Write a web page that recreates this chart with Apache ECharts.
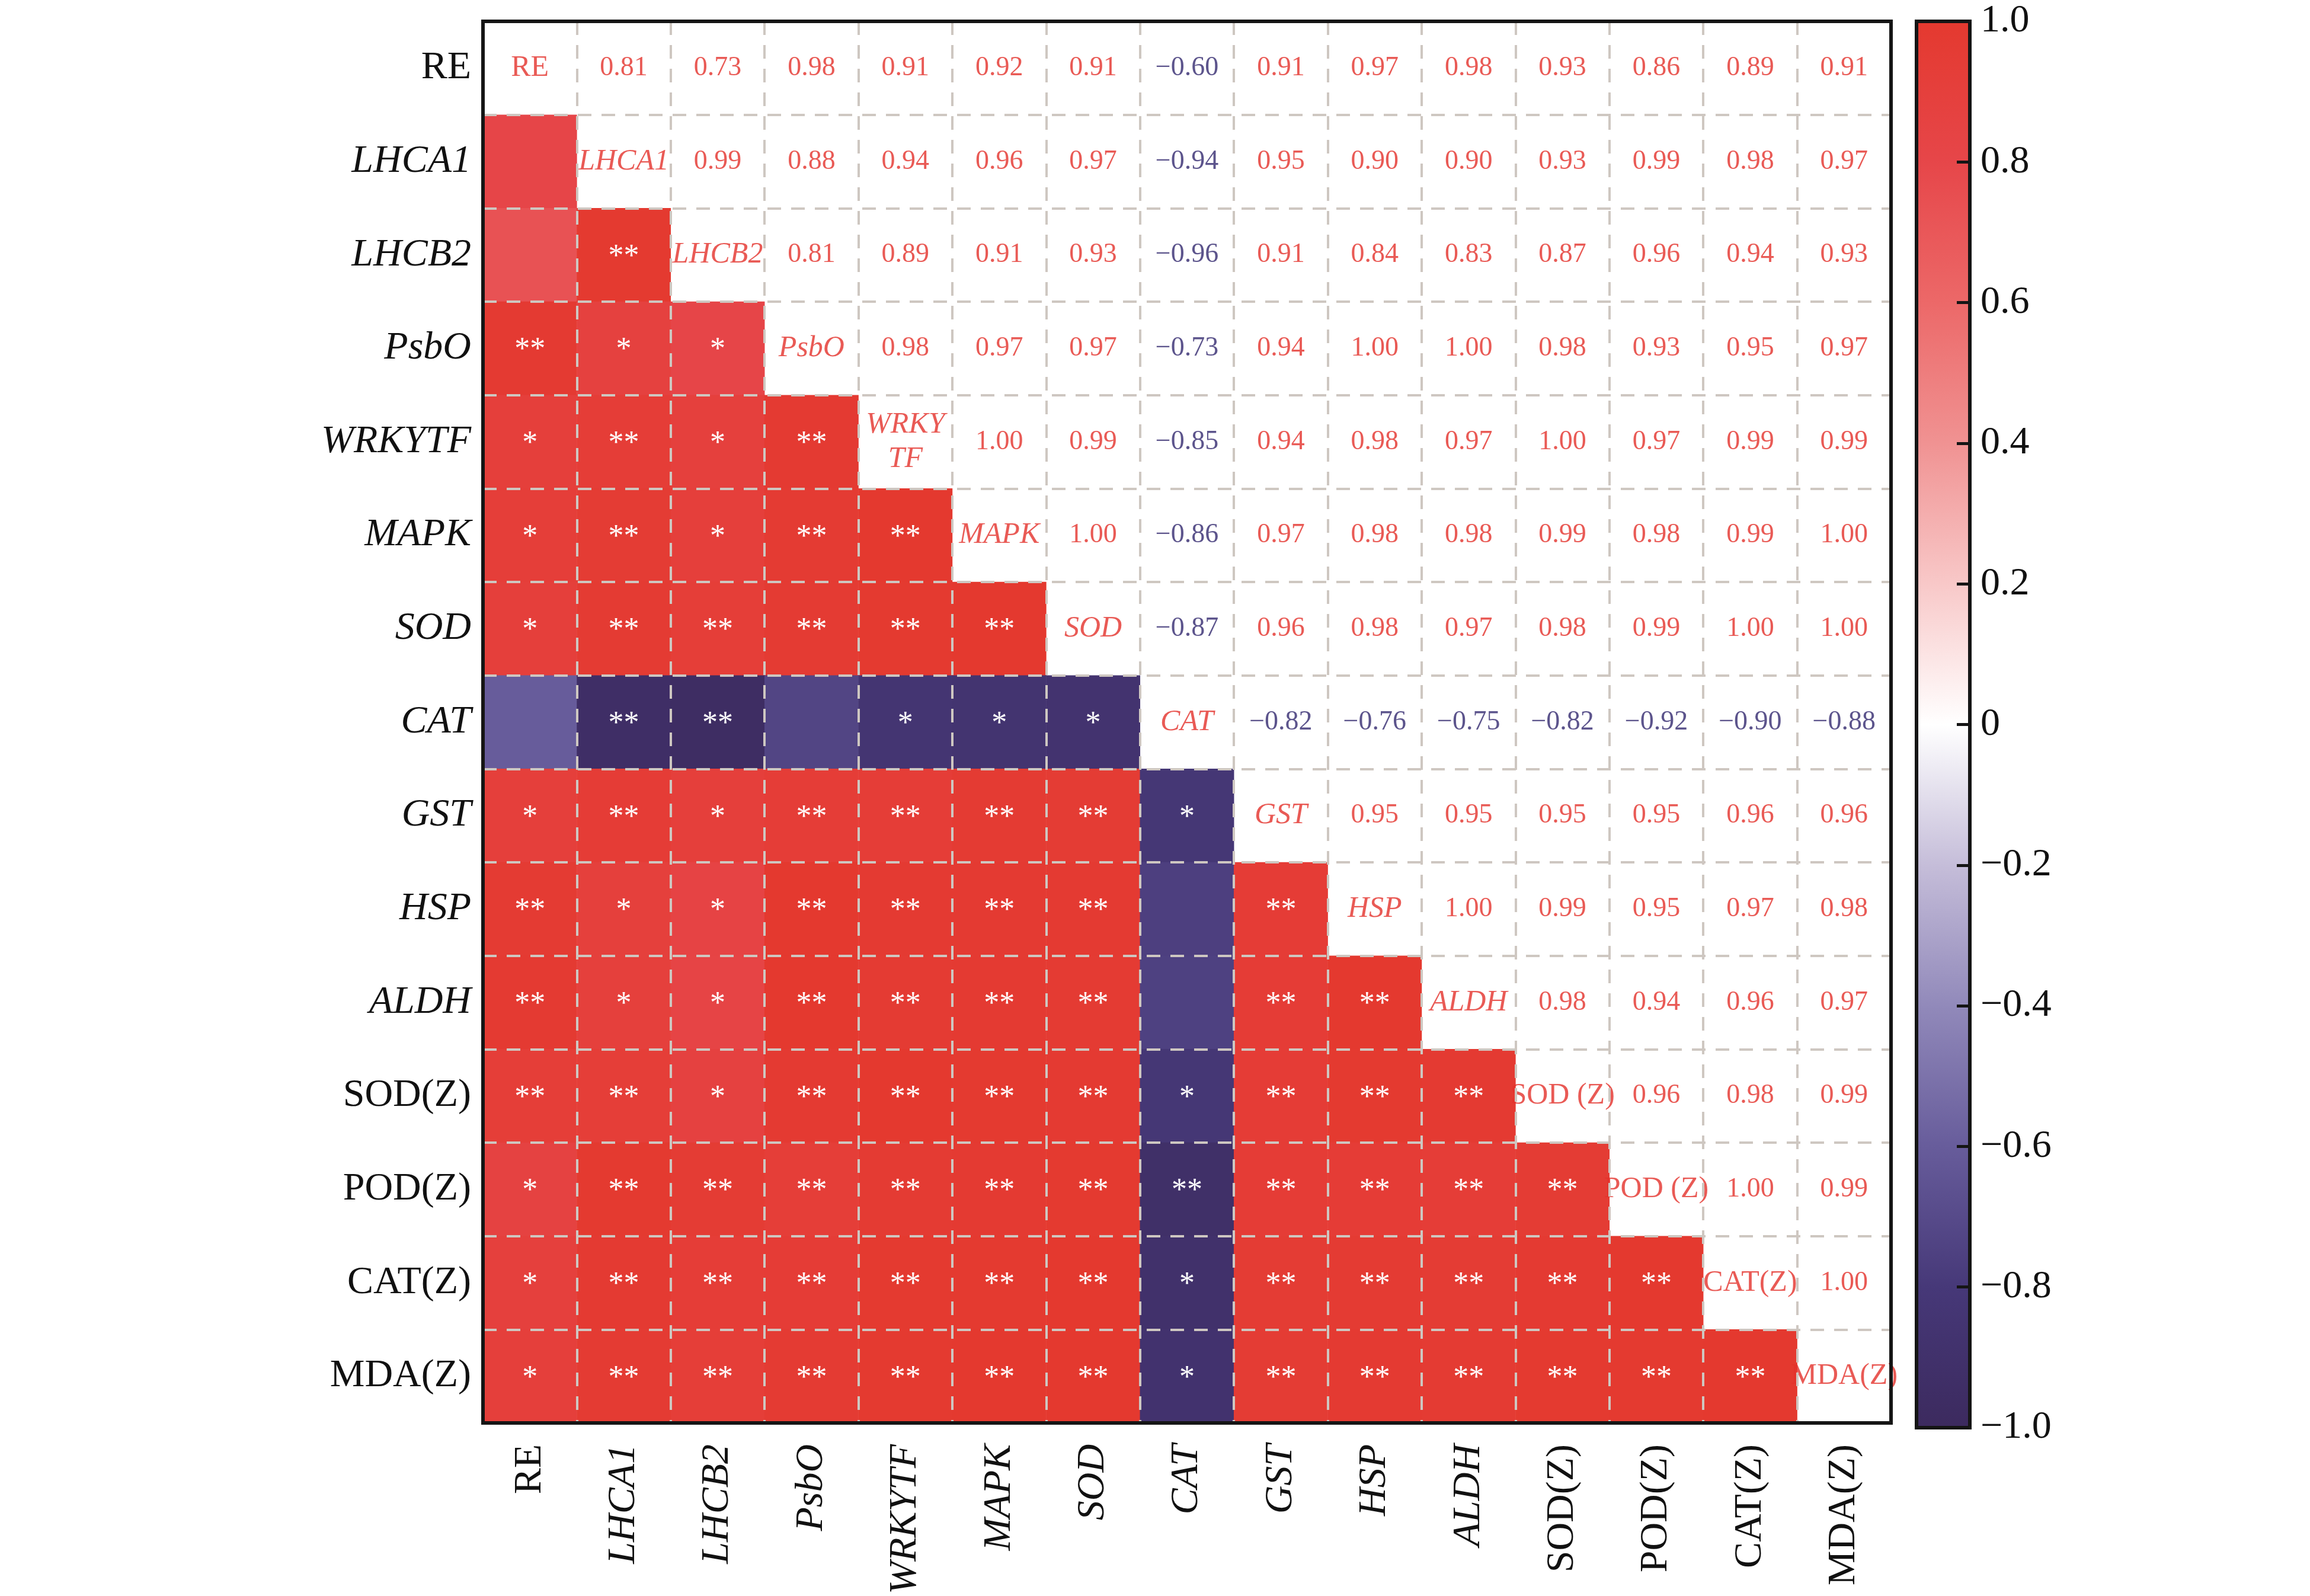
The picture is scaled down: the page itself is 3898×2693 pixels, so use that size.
<!DOCTYPE html>
<html>
<head>
<meta charset="utf-8">
<script src="https://cdn.jsdelivr.net/npm/echarts@6/dist/echarts.min.js"></script>
<style>
  html, body { margin: 0; padding: 0; background: #fff; }
  #chart { width: 3898px; height: 2693px; }
</style>
</head>
<body>
<div id="chart"></div>
<script>
// variable names, top to bottom / left to right
const labels = ['RE', 'LHCA1', 'LHCB2', 'PsbO', 'WRKYTF', 'MAPK', 'SOD', 'CAT', 'GST', 'HSP', 'ALDH', 'SOD(Z)', 'POD(Z)', 'CAT(Z)', 'MDA(Z)']
const diagNames = ['RE', 'LHCA1', 'LHCB2', 'PsbO', 'WRKY\nTF', 'MAPK', 'SOD', 'CAT', 'GST', 'HSP', 'ALDH', 'SOD (Z)', 'POD (Z)', 'CAT(Z)', 'MDA(Z)']
const italicNames = ['LHCA1', 'LHCB2', 'PsbO', 'WRKYTF', 'MAPK', 'SOD', 'CAT', 'GST', 'HSP', 'ALDH']

// upper triangle, row by row (columns to the right of the diagonal)
const rRE = [0.81, 0.73, 0.98, 0.91, 0.92, 0.91, -0.60, 0.91, 0.97, 0.98, 0.93, 0.86, 0.89, 0.91]
const rLHCA1 = [0.99, 0.88, 0.94, 0.96, 0.97, -0.94, 0.95, 0.90, 0.90, 0.93, 0.99, 0.98, 0.97]
const rLHCB2 = [0.81, 0.89, 0.91, 0.93, -0.96, 0.91, 0.84, 0.83, 0.87, 0.96, 0.94, 0.93]
const rPsbO = [0.98, 0.97, 0.97, -0.73, 0.94, 1.00, 1.00, 0.98, 0.93, 0.95, 0.97]
const rWRKYTF = [1.00, 0.99, -0.85, 0.94, 0.98, 0.97, 1.00, 0.97, 0.99, 0.99]
const rMAPK = [1.00, -0.86, 0.97, 0.98, 0.98, 0.99, 0.98, 0.99, 1.00]
const rSOD = [-0.87, 0.96, 0.98, 0.97, 0.98, 0.99, 1.00, 1.00]
const rCAT = [-0.82, -0.76, -0.75, -0.82, -0.92, -0.90, -0.88]
const rGST = [0.95, 0.95, 0.95, 0.95, 0.96, 0.96]
const rHSP = [1.00, 0.99, 0.95, 0.97, 0.98]
const rALDH = [0.98, 0.94, 0.96, 0.97]
const rSODZ = [0.96, 0.98, 0.99]
const rPODZ = [1.00, 0.99]
const rCATZ = [1.00]
const upperRows = [rRE, rLHCA1, rLHCB2, rPsbO, rWRKYTF, rMAPK, rSOD, rCAT, rGST, rHSP, rALDH, rSODZ, rPODZ, rCATZ, []]

// significance marks, lower triangle row by row (columns left of the diagonal)
const sLHCA1 = ['']
const sLHCB2 = ['', '**']
const sPsbO = ['**', '*', '*']
const sWRKYTF = ['*', '**', '*', '**']
const sMAPK = ['*', '**', '*', '**', '**']
const sSOD = ['*', '**', '**', '**', '**', '**']
const sCAT = ['', '**', '**', '', '*', '*', '*']
const sGST = ['*', '**', '*', '**', '**', '**', '**', '*']
const sHSP = ['**', '*', '*', '**', '**', '**', '**', '', '**']
const sALDH = ['**', '*', '*', '**', '**', '**', '**', '', '**', '**']
const sSODZ = ['**', '**', '*', '**', '**', '**', '**', '*', '**', '**', '**']
const sPODZ = ['*', '**', '**', '**', '**', '**', '**', '**', '**', '**', '**', '**']
const sCATZ = ['*', '**', '**', '**', '**', '**', '**', '*', '**', '**', '**', '**', '**']
const sMDAZ = ['*', '**', '**', '**', '**', '**', '**', '*', '**', '**', '**', '**', '**', '**']
const starRows = [[], sLHCA1, sLHCB2, sPsbO, sWRKYTF, sMAPK, sSOD, sCAT, sGST, sHSP, sALDH, sSODZ, sPODZ, sCATZ, sMDAZ]

// colour scale from -1 to 1, step 0.2
const scaleColors = ['#3c2a5e', '#463878', '#675c9b', '#9189ba', '#c5bdd9', '#ffffff', '#f8c8c8', '#f09292', '#ec6868', '#e64649', '#e4392f']

const FONT = 'Liberation Serif'
const RED = '#e3312b'
const PURPLE = '#33296f'
const GRID_LINE = { color: '#cec7c1', width: 4, type: [23, 17] }

function corr (i, j) {
  if (i === j) return 1
  if (j > i) return upperRows[i][j - i - 1]
  return upperRows[j][i - j - 1]
}

function fmt (v) {
  return (v < 0 ? '\u2212' : '') + Math.abs(v).toFixed(2)
}

const lowerData = []
const textData = []
labels.forEach((rowName, i) => {
  labels.forEach((colName, j) => {
    if (j < i) {
      lowerData.push({ value: [j, i, corr(i, j)], stars: starRows[i][j] })
    } else if (j === i) {
      textData.push({
        value: [j, i, 1],
        text: diagNames[i],
        label: {
          color: RED,
          fontSize: 50,
          lineHeight: 58,
          fontStyle: italicNames.includes(rowName) ? 'italic' : 'normal'
        }
      })
    } else {
      const v = corr(i, j)
      textData.push({
        value: [j, i, v],
        text: fmt(v),
        label: { color: v < 0 ? PURPLE : RED }
      })
    }
  })
})

function axisName (v) {
  return italicNames.includes(v) ? '{i|' + v + '}' : '{n|' + v + '}'
}
const axisRich = {
  i: { fontFamily: FONT, fontSize: 66, fontStyle: 'italic', color: '#111' },
  n: { fontFamily: FONT, fontSize: 66, color: '#111' }
}

const barGradient = new echarts.graphic.LinearGradient(0, 0, 0, 1,
  scaleColors.slice().reverse().map((c, k) => ({ offset: k / (scaleColors.length - 1), color: c })))

const chart = echarts.init(document.getElementById('chart'), null, { renderer: 'canvas' })

const option = {
  backgroundColor: '#fff',
  animation: false,
  grid: [
    { left: 815, top: 36, width: 2376, height: 2373, show: true, backgroundColor: 'transparent', borderColor: '#151515', borderWidth: 6, z: 10 },
    { left: 3234, top: 36, width: 90, height: 2373, show: true, backgroundColor: barGradient, borderColor: '#151515', borderWidth: 6, z: 0 }
  ],
  xAxis: [
    {
      type: 'category', gridIndex: 0, data: labels, position: 'bottom', z: 8,
      axisLine: { show: false }, axisTick: { show: false },
      splitLine: { show: true, interval: 0, lineStyle: GRID_LINE },
      axisLabel: { interval: 0, rotate: 90, margin: 36, formatter: axisName, rich: axisRich }
    },
    { type: 'category', gridIndex: 1, data: ['bar'], show: false }
  ],
  yAxis: [
    {
      type: 'category', gridIndex: 0, data: labels, inverse: true, z: 8,
      axisLine: { show: false }, axisTick: { show: false },
      splitLine: { show: true, interval: 0, lineStyle: GRID_LINE },
      axisLabel: { interval: 0, margin: 20, formatter: axisName, rich: axisRich }
    },
    {
      type: 'value', gridIndex: 1, min: -1, max: 1, interval: 0.2, position: 'right', z: 12,
      axisLine: { show: false, onZero: false },
      axisTick: { show: true, inside: true, length: 22, lineStyle: { color: '#151515', width: 5 } },
      splitLine: { show: false },
      axisLabel: {
        margin: 18, fontFamily: FONT, fontSize: 66, color: '#111',
        formatter: v => Math.abs(v) < 1e-9 ? '0' : (v < 0 ? '\u2212' : '') + Math.abs(v).toFixed(1)
      }
    }
  ],
  visualMap: {
    show: false, type: 'continuous', min: -1, max: 1, dimension: 2, seriesIndex: 0,
    inRange: { color: scaleColors }
  },
  series: [
    {
      type: 'heatmap', xAxisIndex: 0, yAxisIndex: 0, data: lowerData,
      itemStyle: { borderWidth: 0 },
      emphasis: { disabled: true },
      label: { show: true, formatter: p => p.data.stars, color: '#fff', fontFamily: FONT, fontSize: 52, offset: [0, 4] }
    },
    {
      type: 'scatter', xAxisIndex: 0, yAxisIndex: 0, data: textData,
      symbolSize: 1, itemStyle: { color: 'transparent' },
      emphasis: { disabled: true },
      label: { show: true, position: 'inside', formatter: p => p.data.text, fontFamily: FONT, fontSize: 46 }
    }
  ]
}

chart.setOption(option)
</script>
</body>
</html>
